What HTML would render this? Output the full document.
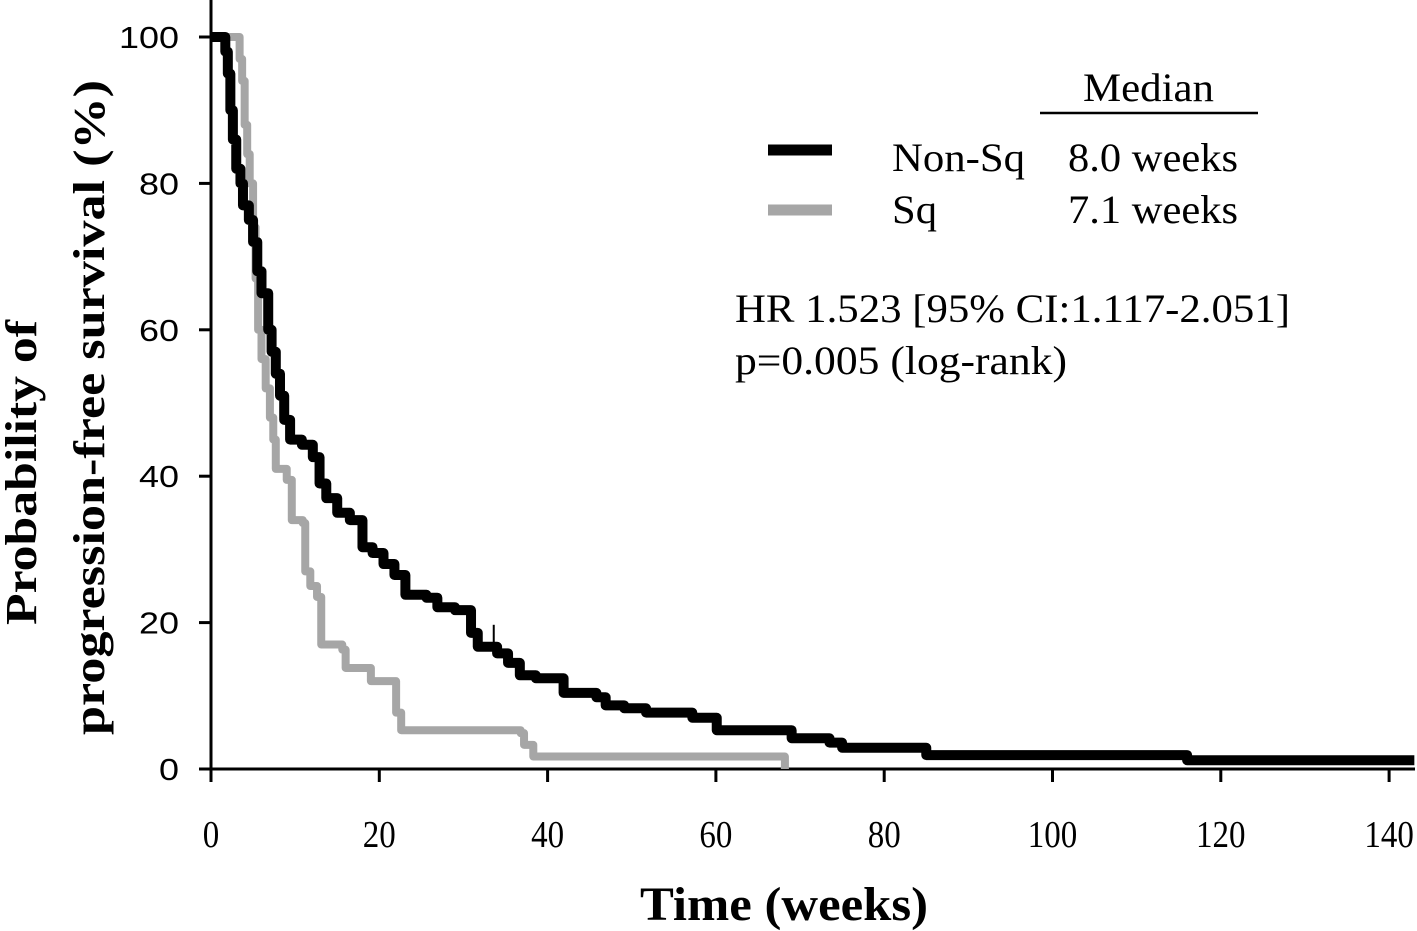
<!DOCTYPE html>
<html><head><meta charset="utf-8"><style>
body{margin:0;background:#fff}
svg{display:block}
.ser{font-family:"Liberation Serif",serif}
.san{font-family:"Liberation Sans",sans-serif}
</style></head><body>
<svg id="chart" width="1417" height="931" viewBox="0 0 1417 931" xmlns="http://www.w3.org/2000/svg">
<g id="axes"></g>
<g id="series"></g>
<g>
<text class="ser" x="1083" y="101" font-size="40" textLength="131" lengthAdjust="spacingAndGlyphs">Median</text>
<line x1="1040" y1="113" x2="1258" y2="113" stroke="#000" stroke-width="2.5"/>
<line x1="768" y1="150" x2="832" y2="150" stroke="#000" stroke-width="11"/>
<text class="ser" x="892" y="171" font-size="40" textLength="133" lengthAdjust="spacingAndGlyphs">Non-Sq</text>
<text class="ser" x="1068" y="171" font-size="40" textLength="170" lengthAdjust="spacingAndGlyphs">8.0 weeks</text>
<line x1="768" y1="210" x2="832" y2="210" stroke="#a6a6a6" stroke-width="11"/>
<text class="ser" x="892" y="223" font-size="40" textLength="45" lengthAdjust="spacingAndGlyphs">Sq</text>
<text class="ser" x="1068" y="223" font-size="40" textLength="170" lengthAdjust="spacingAndGlyphs">7.1 weeks</text>
</g>
<text class="ser" x="735" y="322" font-size="40" textLength="555" lengthAdjust="spacingAndGlyphs">HR 1.523 [95% CI:1.117-2.051]</text>
<text class="ser" x="735" y="374" font-size="40" textLength="332" lengthAdjust="spacingAndGlyphs">p=0.005 (log-rank)</text>
<text class="ser" x="640" y="920" font-size="48" font-weight="bold" textLength="288" lengthAdjust="spacingAndGlyphs">Time (weeks)</text>
<g transform="rotate(-90)">
<text class="ser" x="-625" y="36" font-size="44" font-weight="bold" textLength="305" lengthAdjust="spacingAndGlyphs">Probability of</text>
<text class="ser" x="-735" y="104" font-size="44" font-weight="bold" textLength="655" lengthAdjust="spacingAndGlyphs">progression-free survival (%)</text>
</g>
</svg>
<script>
const xTicks=[0,20,40,60,80,100,120,140];
const yTicks=[0,20,40,60,80,100];
const nonSqTimes=[0,1.7,2.0,2.3,2.6,3.0,3.5,3.8,4.5,5.0,5.5,6.0,6.8,7.2,7.7,8.2,8.7,9.4,10.8,12.1,12.9,13.7,15.0,16.5,18.0,19.2,20.5,21.8,23.1,25.6,26.9,29.0,30.9,31.7,34.0,35.3,36.7,38.6,41.9,45.8,46.9,49.1,51.7,57.2,60.1,69.0,73.5,75,85,116,143];
const nonSqSurv=[100,98,95,90,86,82,80,77,75,72,68,65,60,57,54,51,47.7,45,44.3,42.6,39,37,35,34,30.3,29.5,28,26.5,23.8,23.4,22.1,21.7,18.6,16.7,15.8,14.5,12.8,12.4,10.4,9.8,8.7,8.3,7.7,7.0,5.3,4.2,3.6,2.9,1.9,1.2,1.2];
const sqTimes=[0,3.4,3.7,4.0,4.3,4.6,5.0,5.3,5.6,6.0,6.5,7.0,7.4,7.7,9.0,9.6,10.9,11.2,11.8,12.6,13.1,15.6,16.0,19.0,22.0,22.6,36.8,37.2,38.3,68.2];
const sqSurv=[100,97,94,88,84,80,74,67,60,56,52,48,45,41,39.5,34,33.6,27,25,23.5,17,16.3,13.8,12,7.7,5.3,4.9,3.3,1.7,0];
const censorTimes=[33.6];
const censorSurv=[16.7];
const NS='http://www.w3.org/2000/svg';
const X=t=>211+t*8.415;
const Y=p=>769-p*7.32;
const axes=document.getElementById('axes');
const ser=document.getElementById('series');
function mk(tag,attrs,parent){const e=document.createElementNS(NS,tag);for(const k in attrs)e.setAttribute(k,attrs[k]);parent.appendChild(e);return e;}
let l=mk('line',{x1:211,y1:0,x2:211,y2:771,stroke:'#000','stroke-width':3},axes);


l=mk('line',{x1:200,y1:769,x2:1415,y2:769,stroke:'#000','stroke-width':3},axes);


yTicks.forEach(v=>{
 const t=mk('line',{x1:199,y1:Y(v),x2:211,y2:Y(v),stroke:'#000','stroke-width':3},axes);
 
 
 const s=String(v);
 const tx=mk('text',{x:179,y:Y(v)+11,'font-size':31,'text-anchor':'end','class':'san',textLength:s.length*20,lengthAdjust:'spacingAndGlyphs'},axes);
 tx.textContent=v;
 
 
});
xTicks.forEach(v=>{
 const t=mk('line',{x1:X(v),y1:769,x2:X(v),y2:782,stroke:'#000','stroke-width':3},axes);
 
 
 const s=String(v);
 const tx=mk('text',{x:X(v),y:847,'font-size':38,'text-anchor':'middle','class':'ser',textLength:s.length*16.5,lengthAdjust:'spacingAndGlyphs'},axes);
 tx.textContent=v;
 
 
});
function stepPath(ts,ps){let d='M'+X(ts[0])+','+Y(ps[0]);for(let i=1;i<ts.length;i++){d+=' H'+X(ts[i])+' V'+Y(ps[i]);}return d;}
const sq=mk('path',{d:stepPath(sqTimes,sqSurv),fill:'none',stroke:'#a6a6a6','stroke-width':8,'stroke-linejoin':'round'},ser);


const ns=mk('path',{d:stepPath(nonSqTimes,nonSqSurv),fill:'none',stroke:'#000','stroke-width':10,'stroke-linejoin':'round'},ser);


censorTimes.forEach((t,i)=>{
 const c=mk('line',{x1:X(t),y1:Y(censorSurv[i]),x2:X(t),y2:Y(censorSurv[i]+3),stroke:'#000','stroke-width':2},ser);
 
 
});
</script>
</body></html>
